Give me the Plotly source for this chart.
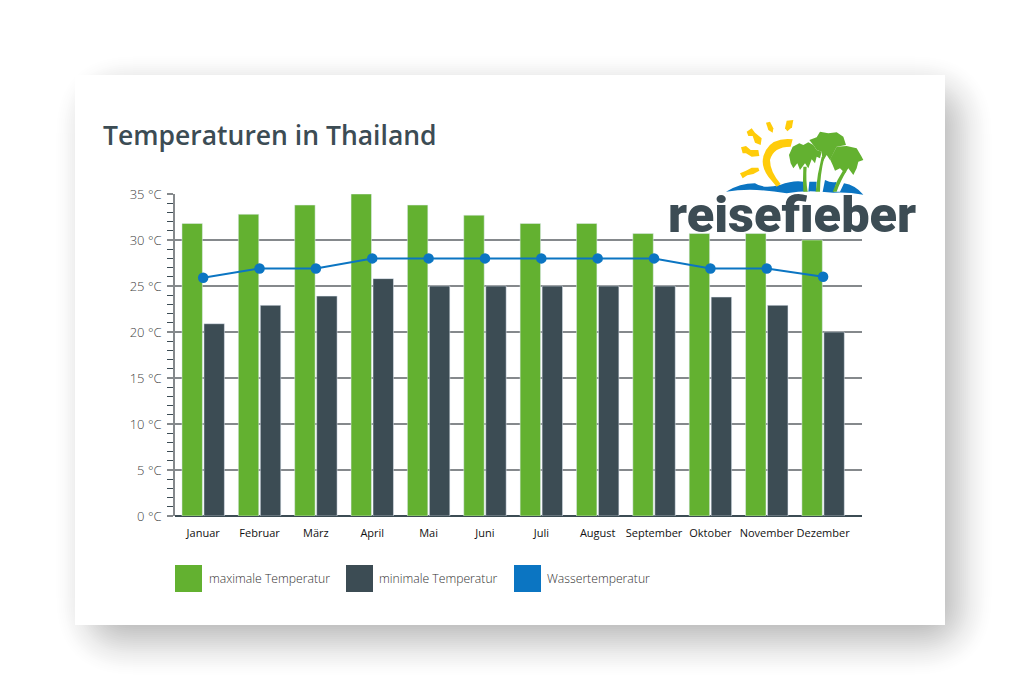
#!/usr/bin/env python3

import re

import plotly.graph_objects as go

months = ["Januar", "Februar", "März", "April", "Mai", "Juni", "Juli", "August",
          "September", "Oktober", "November", "Dezember"]
temp_max = [31.8, 32.8, 33.8, 35, 33.8, 32.7, 31.8, 31.8, 30.7, 30.7, 30.7, 30]
temp_min = [20.9, 22.9, 23.9, 25.8, 25, 25, 25, 25, 25, 23.8, 22.9, 20]
temp_water = [25.9, 26.9, 26.9, 28, 28, 28, 28, 28, 28, 26.9, 26.9, 26]
y_ticks = [0, 5, 10, 15, 20, 25, 30, 35]
y_labels = ["0 °C", "5 °C", "10 °C", "15 °C", "20 °C", "25 °C", "30 °C", "35 °C"]

WIDTH = 1020
HEIGHT = 700
GREEN = "#63b130"
SLATE = "#3c4c54"
BLUE = "#0b75c2"
GRID = "#85898c"
FONT = "Open Sans"


def px(x):
    return x / WIDTH


def py(y):
    return 1 - y / HEIGHT


def to_paper(path, ox=0, oy=0, scale=1):
    # Path is written in screen pixels, shapes want paper fractions.
    def convert(match):
        x = ox + float(match.group(1)) * scale
        y = oy + float(match.group(2)) * scale
        return f"{px(x):.5f},{py(y):.5f}"
    return re.sub(r"(-?[\d.]+),(-?[\d.]+)", convert, path)


def rounded(x0, y0, x1, y1, r):
    return (f"M{x0 + r},{y0} L{x1 - r},{y0} Q{x1},{y0} {x1},{y0 + r} L{x1},{y1 - r} "
            f"Q{x1},{y1} {x1 - r},{y1} L{x0 + r},{y1} Q{x0},{y1} {x0},{y1 - r} "
            f"L{x0},{y0 + r} Q{x0},{y0} {x0 + r},{y0} Z")


def smooth(u):
    return u * u * (3 - 2 * u)


shapes = []

# Soft card shadow, built from stacked translucent rectangles.
LAYERS = 40
for i in range(LAYERS):
    grow = 40 - i * 2
    alpha = 0.3 * (smooth((i + 1) / LAYERS) - smooth(i / LAYERS))
    shapes.append(dict(type="path", layer="below", xref="paper", yref="paper",
                       path=to_paper(rounded(92 - grow, 92 - grow, 956 + grow, 639 + grow, grow + 42)),
                       fillcolor=f"rgba(0,0,0,{alpha:.4f})", line_width=0))

# White card.
shapes.append(dict(type="rect", layer="below", xref="paper", yref="paper",
                   x0=px(75), x1=px(945), y0=py(625), y1=py(75),
                   fillcolor="white", line_width=0))

# The logo box hides the right part of the top grid line.
shapes.append(dict(type="rect", layer="above", xref="paper", yref="paper",
                   x0=px(511), x1=px(870), y0=py(197), y1=py(190),
                   fillcolor="white", line_width=0))

# Legend swatches.
for x0, color in [(175, GREEN), (346, SLATE), (514, BLUE)]:
    shapes.append(dict(type="rect", xref="paper", yref="paper",
                       x0=px(x0), x1=px(x0 + 27), y0=py(592), y1=py(565),
                       fillcolor=color, line_width=0))

# Logo artwork, coordinates relative to the logo corner at (640, 100), 3x.
logo_paths = [
    ("#0b75c2", "M258,275 Q300,250 345,250 Q370,268 420,255 Q460,240 490,245 L495,275 L505,275 "
                "L508,245 L530,245 L528,275 L548,275 L555,240 Q575,250 590,245 L582,275 L600,275 "
                "L612,250 Q645,255 670,284 Q620,275 580,278 Q500,268 440,280 Q340,262 258,275 Z"),
    ("#ffcc0a", "M458,118 Q400,112 378,150 Q355,190 385,230 L410,260 L422,252 Q390,215 390,180 "
                "Q400,140 452,140 Z"),
    ("#ffcc0a", "M320,95 L335,85 L345,98 L365,115 L362,135 L345,128 L338,108 L325,108 Z"),
    ("#ffcc0a", "M378,68 L390,65 L400,85 L398,98 L385,90 Z"),
    ("#ffcc0a", "M440,62 L460,60 L456,82 L442,94 L435,85 Z"),
    ("#ffcc0a", "M303,142 L318,138 L332,150 L355,150 L358,168 L335,170 L318,160 L308,160 Z"),
    ("#ffcc0a", "M300,220 L318,212 L335,203 L355,203 L358,212 L340,222 L322,226 L308,235 Z"),
    ("#63b130", "M490,200 L500,200 Q497,240 503,275 L490,275 Q488,240 490,200 Z"),
    ("#63b130", "M545,170 L553,172 Q540,225 540,275 L527,275 Q532,220 545,170 Z"),
    ("#63b130", "M610,210 L620,212 Q600,245 590,275 L578,275 Q590,240 610,210 Z"),
    ("#63b130", "M447,165 L458,140 L478,130 L490,135 L505,127 L520,135 L530,150 L545,155 L540,175 "
                "L530,170 L525,190 L515,178 L505,205 L495,190 L480,210 L472,190 L460,205 L452,190 Z"),
    ("#63b130", "M508,120 L530,112 L540,95 L565,100 L590,97 L610,110 L618,135 L590,140 L570,180 "
                "L560,165 L548,185 L545,155 L530,150 L520,135 Z"),
    ("#63b130", "M570,178 L590,140 L620,138 L650,145 L665,170 L670,180 L655,185 L650,205 L640,225 "
                "L625,205 L615,220 L600,205 L585,212 L578,195 Z"),
]
for color, path in logo_paths:
    shapes.append(dict(type="path", xref="paper", yref="paper",
                       path=to_paper(path, 640, 100, 1 / 3), fillcolor=color, line_width=0))

annotations = [
    dict(text="Temperaturen in Thailand", x=px(101), y=py(135), xanchor="left", yanchor="middle",
         showarrow=False, font=dict(family=FONT, size=26.5, color=SLATE, weight=600)),
    dict(text="reisefieber", x=px(791.5), y=py(214), xanchor="center", yanchor="middle",
         showarrow=False, font=dict(family="Roboto", size=50.5, color=SLATE, weight=900)),
    dict(text="maximale Temperatur", x=px(207), y=py(578), xanchor="left", yanchor="middle",
         showarrow=False, font=dict(family=FONT, size=12.2, color="#333333", weight=300)),
    dict(text="minimale Temperatur", x=px(377), y=py(578), xanchor="left", yanchor="middle",
         showarrow=False, font=dict(family=FONT, size=12.2, color="#333333", weight=300)),
    dict(text="Wassertemperatur", x=px(545), y=py(578), xanchor="left", yanchor="middle",
         showarrow=False, font=dict(family=FONT, size=12.2, color="#333333", weight=300)),
]
for a in annotations:
    a.update(xref="paper", yref="paper")

fig = go.Figure()
fig.add_trace(go.Bar(x=months, y=temp_max, name="maximale Temperatur", marker_color=GREEN))
fig.add_trace(go.Bar(x=months, y=temp_min, name="minimale Temperatur", marker_color=SLATE))
fig.add_trace(go.Scatter(x=months, y=temp_water, name="Wassertemperatur", mode="lines+markers",
                         line=dict(color=BLUE, width=2), marker=dict(color=BLUE, size=10.5)))

fig.update_layout(
    width=WIDTH, height=HEIGHT, margin=dict(l=0, r=0, t=0, b=0),
    paper_bgcolor="white", plot_bgcolor="rgba(0,0,0,0)", showlegend=False,
    barmode="group", bargap=0.22, bargroupgap=0.07,
    shapes=shapes, annotations=annotations,
)
fig.update_xaxes(domain=[px(175), px(862)], range=[-0.5, 11.69], type="category", automargin=False,
                 showgrid=False, ticks="", showline=False, ticklabelstandoff=9,
                 tickfont=dict(family=FONT, size=11, color="#111111"))
fig.update_yaxes(domain=[py(516), py(194)], range=[0, 35], tickvals=y_ticks, ticktext=y_labels,
                 automargin=False, showgrid=True, gridcolor=GRID, gridwidth=1.7,
                 zeroline=True, zerolinecolor=SLATE, zerolinewidth=1.8,
                 showline=True, linecolor=GRID, linewidth=1.7,
                 ticks="outside", ticklen=6, tickcolor=GRID, tickwidth=1.7, ticklabelstandoff=3,
                 minor=dict(dtick=1, ticks="outside", ticklen=6, tickcolor=SLATE, tickwidth=1.2),
                 tickfont=dict(family=FONT, size=13, color="#444444", weight=300))

fig.write_html("out.html", config={"displayModeBar": False},
               post_script="document.body.style.margin = '0';")
